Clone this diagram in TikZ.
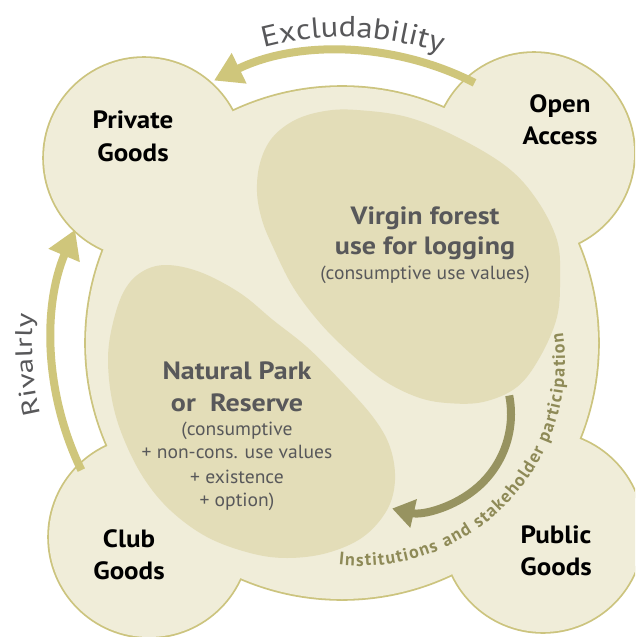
\documentclass[tikz,border=0pt]{standalone}
\usepackage{fontspec}
\setmainfont{PT Sans}
\newfontfamily\wideA[FakeStretch=1.12]{PT Sans}
\newfontfamily\wideB[FakeStretch=1.3]{PT Sans}
\newfontfamily\cornerfont[FakeStretch=1.08]{PT Sans}
\newfontfamily\titlefont[FakeStretch=1.12]{PT Sans}
\newfontfamily\subfont[FakeStretch=1.03]{PT Sans}
\usetikzlibrary{arrows.meta,decorations.text}
\definecolor{blobfill}{HTML}{F0EDD9}
\definecolor{blobline}{HTML}{CCC47E}
\definecolor{eggfill}{HTML}{E3DDB8}
\definecolor{arrowlight}{HTML}{CFC67B}
\definecolor{arrowdark}{HTML}{979360}
\definecolor{textgray}{HTML}{58585A}
\definecolor{institext}{HTML}{8E8A57}
\tikzset{
  corner/.style={anchor=base, text=black, font=\cornerfont\fontsize{25}{25}\selectfont\bfseries, inner sep=0pt},
  eggtitle/.style={anchor=base, text=textgray, font=\titlefont\fontsize{25}{25}\selectfont\bfseries, inner sep=0pt},
  eggsub/.style={anchor=base, text=textgray, font=\subfont\fontsize{19}{19}\selectfont, inner sep=0pt},
  egg/.style={fill=eggfill},
  bigarrow/.style={arrowlight, line width=8pt, -{Triangle[length=28pt,width=32pt]}},
  darkarrow/.style={arrowdark, line width=8pt, -{Triangle[length=22pt,width=28pt]}},
}
\begin{document}
\begin{tikzpicture}[x=1pt,y=1pt]
\useasboundingbox (0,0) rectangle (635,-637);
\clip (0,0) rectangle (635,-637);
\fill[white] (0,0) rectangle (635,-637);
% blob
\coordinate (C) at (342,-343);
\coordinate (TL) at (144,-158);
\coordinate (TR) at (534,-153);
\coordinate (BL) at (149,-537);
\coordinate (BR) at (543,-532);
\draw[blobline, line width=3.6pt] (C) circle (256) (TL) circle (100) (TR) circle (100) (BL) circle (100) (BR) circle (100);
\fill[blobfill] (C) circle (256) (TL) circle (100) (TR) circle (100) (BL) circle (100) (BR) circle (100);
% eggs
\fill[egg] plot[smooth cycle, tension=0.6] coordinates {
  (257,-192) (260,-163) (272,-138) (295,-120) (325,-111) (357,-110) (407,-117) (457,-137)
  (507,-167) (537,-200) (557,-240) (560,-277) (557,-317) (540,-357) (517,-387)
  (483,-402) (447,-403) (417,-397) (383,-380) (350,-353) (320,-323) (293,-287)
  (273,-247) (262,-220)};
\fill[egg] plot[smooth cycle, tension=0.6] coordinates {
  (165,-265) (140,-273) (123,-293) (112,-327) (108,-360) (112,-400) (123,-437)
  (143,-477) (170,-510) (207,-537) (250,-553) (287,-558) (327,-553) (363,-537)
  (387,-510) (395,-480) (390,-447) (373,-417) (340,-380) (307,-347) (273,-320)
  (240,-293) (200,-272)};
% outer arrows
\draw[bigarrow] ([shift={(63:292)}]C) arc[start angle=63, end angle=116, radius=292];
\draw[bigarrow] ([shift={(206:290)}]C) arc[start angle=206, end angle=157, radius=290];
\path[decorate, decoration={text along path, text align=center,
  text={|\wideA\fontsize{29}{29}\selectfont\color{textgray}|Excludability}}]
  ([shift={(148:306)}]C) arc[start angle=148, end angle=28, radius=306];
\path[decorate, decoration={text along path, text align=center,
  text={|\wideB\fontsize{24}{24}\selectfont\color{textgray}|Rivalrly}}]
  ([shift={(244:310)}]C) arc[start angle=244, end angle=124, radius=310];
% dark arrow
\coordinate (D) at (414,-414);
\draw[darkarrow] ([shift={(11:97)}]D) arc[start angle=11, end angle=-103, radius=97];
\coordinate (E) at (360,-361);
\path[decorate, decoration={text along path, text align={fit to path},
  text={|\fontsize{18}{18}\selectfont\bfseries\color{institext}|Institutions and stakeholder participation}}]
  ([shift={(264:205)}]E) arc[start angle=264, end angle=368, radius=205];
% corner labels
\node[corner] (pg1) at (133,-128) {Private};
\node[corner] (pg2) at (133,-161) {Goods};
\node[corner] (oa1) at (560,-112) {Open};
\node[corner] (oa2) at (560,-144) {Access};
\node[corner] (cg1) at (129,-547) {Club};
\node[corner] (cg2) at (129,-579) {Goods};
\node[corner] (pu1) at (556,-543) {Public};
\node[corner] (pu2) at (556,-575) {Goods};
% egg texts
\node[eggtitle] (vf1) at (425,-224) {Virgin forest};
\node[eggtitle] (vf2) at (425,-254) {use for logging};
\node[eggsub] (vf3) at (425,-279) {(consumptive use values)};
\node[eggtitle] (np1) at (237,-379) {Natural Park};
\node[eggtitle] (np2) at (237,-411) {or\ \ Reserve};
\node[eggsub] (np3) at (237,-435) {(consumptive};
\node[eggsub] (np4) at (237,-458) {+ non-cons. use values};
\node[eggsub] (np5) at (237,-483) {+ existence};
\node[eggsub] (np6) at (237,-506) {+ option)};
\end{tikzpicture}
\end{document}
